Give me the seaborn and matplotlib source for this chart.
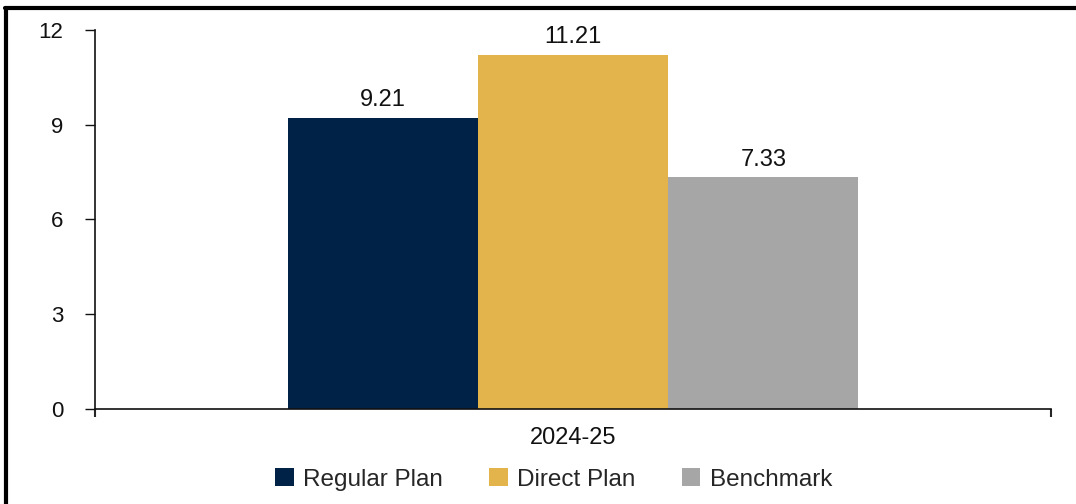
import pandas as pd
import matplotlib.pyplot as plt
import seaborn as sns
from matplotlib.lines import Line2D

# data
periods = ["2024-25"]
plans = ["Regular Plan", "Direct Plan", "Benchmark"]
returns = [9.21, 11.21, 7.33]
colors = ["#002247", "#E3B44C", "#A6A6A6"]
y_ticks = [0, 3, 6, 9, 12]

df = pd.DataFrame({
    "Period": periods * len(plans),
    "Plan": plans,
    "Return": returns,
})

sns.set_theme(style="white")
plt.rcParams['font.family'] = ['Liberation Sans', 'DejaVu Sans']

fig = plt.figure(figsize=(10.76, 5.04), dpi=100)
ax = fig.add_axes([0.0883, 0.1885, 0.8885, 0.752])

sns.barplot(data=df, x="Period", y="Return", hue="Plan", palette=colors,
            width=0.597, saturation=1, linewidth=0, ax=ax, legend=True)

for cont in ax.containers:
    ax.bar_label(cont, fmt="%.2f", padding=5, fontsize=17, color="#111111")

ax.set_ylim(0, 12)
ax.set_yticks(y_ticks)
ax.set_xlim(-0.5, 0.5)
ax.set_xlabel("")
ax.set_ylabel("")
ax.tick_params(axis="y", direction="out", length=7, width=1, labelsize=16, pad=16,
               left=True, colors="#111111")
ax.tick_params(axis="x", which="major", length=0, labelsize=17, pad=13, colors="#111111")
ax.set_xticks([-0.5, 0.5], minor=True)
ax.tick_params(axis="x", which="minor", direction="out", length=6, width=1.5, bottom=True)

for s in ["top", "right"]:
    ax.spines[s].set_visible(False)
for s in ["left", "bottom"]:
    ax.spines[s].set_color("#111111")
    ax.spines[s].set_linewidth(1.2)

leg = ax.legend(loc="center", bbox_to_anchor=(0.48, -0.186), ncol=3, frameon=False,
                fontsize=17.5, handlelength=0.75, handleheight=0.75, handletextpad=0.4,
                columnspacing=1.9)

# figure frame (top and left edges visible in the reference)
fig.add_artist(Line2D([0.005, 1.0], [0.985, 0.985], transform=fig.transFigure,
                      color="black", linewidth=3))
fig.add_artist(Line2D([0.006, 0.006], [0.0, 0.985], transform=fig.transFigure,
                      color="black", linewidth=3))

fig.savefig("out.png", dpi=100)
